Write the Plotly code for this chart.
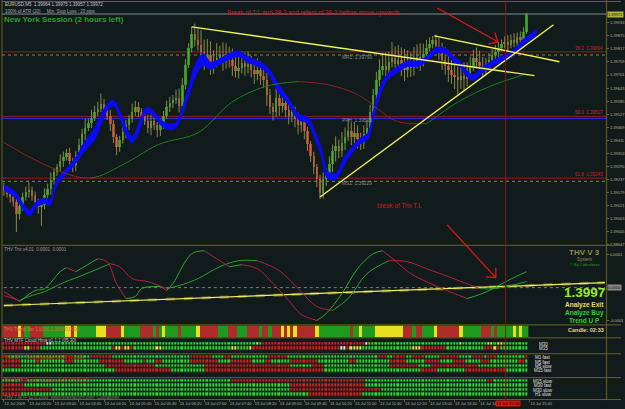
import math
import plotly.graph_objects as go

W, H = 625, 409
FONT = "Liberation Sans, Arial, sans-serif"
BG = "#121b1b"
OLIVE = "#66661f"

# ---------------- data: EURUSD M5 (prices stored as pips above 1.3900) ----------------
BASE = 1.3900
PIP = 0.0001

close_pips = [
    18.5, 17.2, 15.9, 13.7, 8.4, 11.9, 15.9, 18.1, 19.0, 16.3,
    13.7, 11.5, 12.4, 16.8, 19.4, 23.4, 26.9, 29.1, 31.8, 33.6,
    35.3, 31.8, 30.0, 34.4, 38.9, 43.7, 46.8, 48.6, 51.2, 53.9,
    55.2, 57.4, 54.8, 52.1, 48.2, 42.4, 38.0, 41.1, 44.6, 47.7,
    50.4, 53.9, 56.1, 53.9, 51.7, 49.9, 46.8, 49.5, 47.7, 45.5,
    48.2, 52.1, 55.7, 57.9, 59.2, 60.1, 56.5, 65.8, 74.7, 82.2,
    88.4, 85.7, 83.5, 80.4, 76.9, 79.1, 74.2, 76.0, 77.8, 79.1,
    76.0, 78.2, 76.9, 74.2, 72.0, 73.3, 75.6, 73.8, 75.1, 72.5,
    70.7, 72.5, 69.8, 68.0, 61.4, 55.7, 53.9, 60.1, 56.5, 57.9,
    54.8, 52.1, 53.5, 50.4, 47.7, 49.5, 45.1, 39.3, 34.0, 29.1,
    23.8, 17.7, 23.8, 26.1, 30.5, 36.2, 38.4, 36.2, 39.8, 42.8,
    45.1, 42.4, 44.2, 41.5, 39.8, 43.7, 46.8, 53.9, 61.4, 68.0,
    72.5, 74.2, 72.5, 76.0, 77.8, 75.1, 76.9, 74.2, 72.5, 75.1,
    73.3, 76.0, 78.2, 76.4, 79.5, 82.2, 83.9, 85.7, 83.1, 80.4,
    76.9, 74.2, 72.5, 70.2, 69.4, 68.0, 69.8, 68.5, 70.7, 73.8,
    77.8, 76.0, 74.2, 72.5, 74.2, 76.9, 79.1, 80.4, 82.2, 83.9,
    84.8, 83.5, 85.7, 84.4, 87.0, 85.7, 89.3, 97.2]
first_open_pips = 20.7

wick_up_pips = [
    1.5, 2.0, 1.0, 2.5, 1.5, 3.0, 2.0, 2.5, 3.5, 1.5,
    2.0, 1.5, 2.0, 3.0, 2.5, 3.5, 2.0, 1.5, 3.0, 2.5,
    2.0, 2.5, 1.5, 2.0, 3.0, 2.5, 4.0, 2.0, 3.5, 2.5,
    3.0, 4.5, 2.0, 1.5, 2.5, 2.0, 1.5, 2.0, 3.0, 2.5,
    2.0, 3.5, 2.5, 2.0, 1.5, 2.0, 2.5, 3.0, 2.0, 1.5,
    2.5, 2.0, 3.0, 2.5, 2.0, 3.5, 4.0, 3.0, 2.5, 2.0,
    3.1, 4.5, 5.0, 6.5, 5.5, 7.0, 6.0, 5.0, 6.5, 4.0,
    5.5, 6.0, 4.5, 5.0, 4.0, 6.5, 5.0, 4.5, 5.5, 3.5,
    4.0, 5.0, 3.5, 4.5, 3.0, 2.5, 2.0, 4.0, 3.0, 3.5,
    2.5, 3.0, 2.0, 2.5, 3.0, 2.0, 2.5, 2.0, 1.5, 2.0,
    1.5, 2.0, 3.0, 2.5, 3.5, 3.0, 4.5, 3.0, 5.0, 4.0,
    5.5, 4.0, 5.0, 3.5, 3.0, 4.0, 3.5, 3.0, 2.5, 3.5,
    4.5, 5.5, 6.0, 4.5, 7.0, 5.0, 6.5, 5.5, 7.5, 6.0,
    5.0, 6.5, 5.5, 6.0, 4.5, 3.5, 3.0, 1.8, 2.5, 3.5,
    4.0, 5.5, 4.5, 5.0, 6.0, 4.5, 5.5, 6.0, 5.0, 4.5,
    3.5, 4.5, 5.0, 4.0, 3.5, 3.0, 2.5, 3.0, 2.5, 2.0,
    2.5, 3.0, 2.5, 3.0, 2.0, 2.5, 2.0, 0.5]
wick_dn_pips = [
    2.0, 1.5, 2.5, 2.0, 8.0, 2.5, 2.0, 1.5, 2.5, 2.0,
    2.5, 3.0, 8.4, 2.0, 1.5, 2.5, 2.0, 1.5, 2.0, 2.5,
    1.5, 2.0, 3.0, 2.5, 1.5, 2.0, 2.5, 1.5, 2.0, 1.5,
    2.0, 1.5, 2.5, 2.0, 3.0, 2.5, 3.5, 2.0, 1.5, 2.5,
    2.0, 1.5, 2.0, 2.5, 3.0, 2.0, 2.5, 3.5, 2.0, 3.0,
    2.5, 2.0, 1.5, 2.0, 2.5, 2.0, 3.0, 2.5, 2.0, 1.5,
    2.0, 3.0, 2.5, 3.5, 4.5, 3.0, 4.0, 3.5, 2.5, 3.0,
    4.0, 3.0, 3.5, 4.5, 3.0, 3.5, 2.5, 4.0, 3.0, 3.5,
    4.5, 3.0, 4.0, 3.5, 5.0, 3.0, 4.0, 2.5, 4.5, 3.0,
    3.5, 4.0, 3.0, 3.5, 4.0, 3.0, 3.5, 3.0, 2.5, 3.0,
    3.5, 2.7, 2.5, 3.0, 2.0, 3.5, 4.5, 3.0, 2.5, 3.0,
    2.0, 3.5, 2.5, 4.0, 3.0, 2.5, 2.0, 1.5, 2.0, 2.5,
    3.0, 2.5, 4.0, 3.0, 2.5, 4.0, 3.0, 4.5, 5.0, 3.5,
    4.0, 3.5, 3.0, 4.5, 2.5, 2.0, 1.5, 2.0, 3.0, 3.5,
    4.5, 4.0, 5.5, 4.0, 5.5, 6.5, 4.0, 5.0, 3.5, 2.5,
    2.0, 3.0, 4.0, 3.5, 2.5, 2.0, 1.5, 2.0, 2.5, 1.5,
    2.0, 2.5, 1.5, 2.0, 1.5, 2.0, 1.5, 1.0]

# HMA cloud (blue band): bar index, upper / lower edge in pips
band_x = [0, 3.5, 6.7, 8.3, 10.5, 13, 14.6, 16.8, 20, 23.2,
          25.7, 28.9, 31.4, 33.7, 35.2, 36.8, 39, 41, 43.2, 45.4,
          47, 48.6, 50.5, 52.7, 54.9, 56.8, 59, 61.3, 63.8, 66,
          68.6, 71.7, 74.9, 78.1, 81.3, 84.4, 87.6, 90.8, 94, 97.1,
          99.4, 101.3, 103.5, 106, 108.9, 111.4, 113.7, 116.2, 118.4, 120.3,
          122.5, 125.7, 128.9, 132.1, 135.2, 138.4, 141.6, 143.8, 145.7, 147.9,
          150.2, 152.1, 154.3, 156.5, 159, 161.6, 163.8, 166, 168.6, 170.2]
band_hi_pips = [21.3, 18.4, 11.9, 10.0, 14.1, 15.4, 14.5, 23.3, 28.6, 34.0,
                40.2, 46.4, 53.5, 58.3, 58.7, 54.8, 47.0, 42.8, 49.0, 55.6,
                55.1, 52.9, 49.8, 48.5, 48.9, 54.8, 64.5, 75.1, 79.5, 75.8,
                77.0, 79.5, 80.8, 78.1, 76.3, 73.3, 66.0, 60.1, 53.0, 51.2,
                44.9, 38.2, 27.3, 26.5, 33.9, 38.4, 41.9, 44.2, 55.9, 64.8,
                70.4, 73.7, 76.3, 76.3, 78.6, 82.5, 81.6, 78.1, 76.3, 71.9,
                70.2, 72.8, 75.0, 76.8, 78.6, 79.9, 82.5, 86.1, 88.7, 90.5]
band_lo_pips = [18.8, 16.0, 9.3, 7.6, 11.5, 13.0, 12.0, 20.8, 26.1, 31.4,
                36.2, 41.1, 49.5, 55.7, 56.2, 52.1, 43.5, 40.2, 45.0, 53.1,
                52.7, 50.5, 47.4, 46.0, 46.5, 52.1, 60.5, 69.8, 74.3, 72.7,
                74.6, 76.9, 78.3, 75.6, 73.9, 70.7, 62.6, 57.4, 50.4, 48.6,
                41.7, 34.7, 24.0, 23.9, 30.6, 35.8, 39.4, 41.5, 52.4, 61.5,
                67.9, 71.2, 73.9, 73.9, 76.1, 80.1, 79.2, 75.6, 73.9, 69.5,
                67.7, 70.3, 72.6, 74.3, 76.1, 77.4, 80.1, 83.6, 86.3, 88.0]

# slow moving average (thin line)
ma_x = [0, 8.3, 17.8, 24.1, 27.3, 30.5, 40, 49.5, 62.2, 72.7, 83.5, 94, 103.5, 113,
        125.7, 135.2, 144.8, 155.2, 166]
ma_pips = [40.2, 33.6, 27.4, 24.7, 24.3, 25.2, 31.8, 39.3, 44.6, 57.9, 65.0, 67.2, 65.8,
           61.4, 49.5, 48.6, 57.9, 65.0, 70.2]

# yellow trend lines (bar index, pips)
tl_down_long_x = [60.0, 169.5]
tl_down_long_p = [91.5, 69.8]
tl_up_x = [101.0, 175.6]
tl_up_p = [15.9, 92.4]
tl_down_short_x = [137.5, 177.5]
tl_down_short_p = [87.5, 76.0]

# horizontal levels
bid_price = 1.39972
fib_names = ["38.2", "50.0", "61.8"]
fib_prices = [1.39804, 1.39517, 1.39243]
pivot_names = ["MR1", "PPH", "MS1"]
pivot_prices = [1.39790, 1.39508, 1.39229]

price_ticks = [1.38947, 1.39005, 1.39063, 1.39121, 1.39179, 1.39237, 1.39295, 1.39353,
               1.39411, 1.39469, 1.39527, 1.39585, 1.39643, 1.39701, 1.39759, 1.39817,
               1.39875, 1.39933]

x_ticks = [0, 8, 16, 24, 32, 40, 48, 56, 64, 72, 80, 88, 96, 104, 112, 120, 128, 136, 144, 152, 168]
x_labels = ["13 Jul 2009", "13 Jul 02:20", "13 Jul 03:00", "13 Jul 03:40", "13 Jul 04:20",
            "13 Jul 05:00", "13 Jul 05:40", "13 Jul 06:20", "13 Jul 07:00", "13 Jul 07:40",
            "13 Jul 08:20", "13 Jul 09:00", "13 Jul 09:40", "13 Jul 10:20", "13 Jul 11:00",
            "13 Jul 11:40", "13 Jul 12:20", "13 Jul 13:00", "13 Jul 13:40", "13 Jul 14:20",
            "13 Jul 15:40"]
cursor_bar = 160.3
cursor_label = "13 Jul 15:00"

# THV Trix oscillator (units of 0.00001)
trix_fast_x = [0, 5, 10, 13, 18, 20, 23, 30, 33, 36, 39, 42, 44, 50, 52, 54, 60, 64, 67, 72,
               76, 81, 86, 91, 95, 100, 103, 108, 113, 118, 121, 125, 130, 135, 140, 148, 152,
               155, 161, 167]
trix_fast_v = [-1.2, -4.2, -0.9, -0.3, 4.8, 6.0, 4.8, 8.7, 7.8, 1.2, -3.3, -2.7, -0.3, 0.3,
               -0.9, 1.2, 10.2, 11.1, 9.3, 6.3, 6.9, 5.7, 1.2, -3.9, -8.1, -9.9, -7.8, -1.8,
               5.7, 10.2, 11.1, 8.1, 4.2, 1.8, -0.3, -3.3, -2.1, -0.9, 2.1, 4.8]
trix_slow_x = [0, 5, 8, 13, 19, 24, 34, 37, 41, 46, 52, 56, 62, 69, 75, 81, 88, 94, 100, 105,
               110, 116, 123, 129, 135, 142, 152, 157, 167]
trix_slow_v = [-2.4, -3.9, -2.7, -1.2, 1.5, 3.3, 7.2, 6.3, 2.7, 1.8, -0.3, 0.6, 2.7, 6.3, 8.1,
               8.1, 5.1, -0.3, -5.7, -6.9, -3.3, 4.2, 8.1, 7.8, 5.7, 3.3, -0.3, -0.3, 1.8]
trix_tl_x = [0, 192]
trix_tl_v = [-5.4, 1.5]

# Trend bar & MTF signal rows (run-length: colour letter + bar count)
trend_bar_runs = ("R5 Y1 R1 G2 R4 G7 Y2 R1 Y1 G6 Y3 R5 Y1 G5 R4 G1 R1 G1 Y1 G4 R1 G5 Y1 R6 G3 "
                  "R3 G3 R4 G1 R2 G1 R3 Y1 R1 Y1 R1 Y1 R6 Y1 G10 R1 G2 Y1 G4 Y9 R3 G1 R2 G4 "
                  "Y1 R7 Y1 G6 R3 G1 R1 G5 Y1 G1 Y1 G2")
mtf1_names = ["M30", "M15"]
mtf1_runs = ["R14 W2 G65 Y1 G1 R33 W1 G29 Y1 G8 Y2 G1 Y2 G8",
             "R7 Y2 R3 G23 R1 Y2 R1 Y2 R1 G7 Y2 G22 Y2 G4 Y1 R28 W2 R1 Y4 G16 Y3 R8 G11 G1 R3 Y1 R1 G9"]
mtf2_names = ["M1 fast", "M5 fast", "M5 slow", "M15 fast"]
mtf2_runs = ["R2 G18 R3 G5 R7 G25 R7 G4 R2 G12 R6 G29 R3 G2 R4 G2 R4 G5 R6 G4 R4 G1 R3 G9 R1",
             "R6 G5 R1 G8 R3 G8 R8 G6 R1 G3 R2 G9 R9 G4 R7 G4 R2 G6 R9 G10 R2 G11 R5 G6 R5 G4 R4 G5 R3 G9 R2 G1",
             "R6 G27 R16 G16 R27 G7 R4 G21 R9 G4 R15 G16",
             "G36 R18 G11 R38 G31 R5 G9 R13 G7"]
mtf3_names = ["M15 slow", "M30 fast", "M30 slow", "H1 slow"]
mtf3_runs = ["G6 R2 G65 R43 G39 R2 G11",
             "R7 G85 R24 G52",
             "R16 G76 R29 G47",
             "R6 G92 R17 G53"]

# ---------------- helpers ----------------
N = min(len(close_pips), len(wick_up_pips), len(wick_dn_pips))
idx = list(range(N))


def pr(p):
    return BASE + p * PIP


def px(x):
    return x / W


def py(y):
    return 1 - y / H


CODE = {"R": 0, "G": 1, "Y": 2, "W": 3}


def expand(runs):
    out = []
    for tok in runs.split():
        out += [CODE[tok[0]]] * int(tok[1:])
    out = out[:N]
    return out + [None] * (N - len(out))


def disc_scale(cols):
    s = []
    for k, c in enumerate(cols):
        s.append([k / 4, c])
        s.append([(k + 1) / 4, c])
    return s


opens = [first_open_pips] + close_pips[:N - 1]
closes = close_pips[:N]

fig = go.Figure()

# wicks
wx, wy = [], []
for i in idx:
    o, c = opens[i], closes[i]
    wx += [i, i, None]
    wy += [pr(min(o, c) - wick_dn_pips[i]), pr(max(o, c) + wick_up_pips[i]), None]
fig.add_trace(go.Scatter(x=wx, y=wy, mode="lines", line=dict(color="#8a8a44", width=1),
                         hoverinfo="skip", yaxis="y"))
# bodies
fig.add_trace(go.Bar(
    x=idx,
    base=[pr(min(opens[i], closes[i])) for i in idx],
    y=[max(abs(closes[i] - opens[i]), 0.45) * PIP for i in idx],
    width=0.78,
    marker=dict(color=["#1aa01a" if closes[i] >= opens[i] else "#cc3636" for i in idx],
                line=dict(width=0)),
    yaxis="y", hoverinfo="skip"))

# blue HMA cloud
fig.add_trace(go.Scatter(x=band_x, y=[pr(v) for v in band_lo_pips], mode="lines",
                         line=dict(color="#0a0af5", width=1, shape="spline"), yaxis="y",
                         hoverinfo="skip"))
fig.add_trace(go.Scatter(x=band_x, y=[pr(v) for v in band_hi_pips], mode="lines",
                         line=dict(color="#0a0af5", width=1, shape="spline"), fill="tonexty",
                         fillcolor="#0a0af5", yaxis="y", hoverinfo="skip"))


def slope_traces(xs, vs, up_col, dn_col, yaxis, width=1, conv=lambda v: v):
    runs = []
    for i in range(len(xs) - 1):
        col = up_col if vs[i + 1] >= vs[i] else dn_col
        if runs and runs[-1][0] == col:
            runs[-1][1].append(i + 1)
        else:
            runs.append([col, [i, i + 1]])
    for col, ids in runs:
        fig.add_trace(go.Scatter(x=[xs[j] for j in ids], y=[conv(vs[j]) for j in ids],
                                 mode="lines", line=dict(color=col, width=width, shape="spline"),
                                 yaxis=yaxis, hoverinfo="skip"))


slope_traces(ma_x, ma_pips, "#1f7d1f", "#8c2424", "y", 1, pr)

for tx, tp in [(tl_down_long_x, tl_down_long_p), (tl_up_x, tl_up_p), (tl_down_short_x, tl_down_short_p)]:
    fig.add_trace(go.Scatter(x=tx, y=[pr(v) for v in tp], mode="lines",
                             line=dict(color="#f2f25a", width=1.3), yaxis="y", hoverinfo="skip"))

# oscillator panel
fig.add_trace(go.Scatter(x=[0, 192], y=[0, 0], mode="lines",
                         line=dict(color="#7a7a7a", width=1, dash="dot"), yaxis="y2", hoverinfo="skip"))
fig.add_trace(go.Scatter(x=trix_tl_x, y=trix_tl_v, mode="lines",
                         line=dict(color="#5e5e26", width=3, dash="dash"), yaxis="y2", hoverinfo="skip"))
fig.add_trace(go.Scatter(x=trix_tl_x, y=trix_tl_v, mode="lines",
                         line=dict(color="#f0f060", width=1.2), yaxis="y2", hoverinfo="skip"))
slope_traces(trix_slow_x, trix_slow_v, "#2c9c2c", "#b0203c", "y2", 1)
slope_traces(trix_fast_x, trix_fast_v, "#2ea82e", "#b82040", "y2", 1)

# trend bar
tb_cols = ["#b02c2c", "#1e9a1e", "#e6e020", "#eeeeee"]
fig.add_trace(go.Heatmap(x=idx, y=[0], z=[expand(trend_bar_runs)], zmin=-0.5, zmax=3.5,
                         colorscale=disc_scale(tb_cols), showscale=False, yaxis="y3",
                         hoverinfo="skip"))
mtf_cols = ["#d02020", "#2fd82f", "#e8e840", "#f0f0f0"]
for runs, ya in [(mtf1_runs, "y4"), (mtf2_runs, "y5"), (mtf3_runs, "y6")]:
    fig.add_trace(go.Heatmap(x=idx, y=list(range(len(runs))), z=[expand(r) for r in runs],
                             zmin=-0.5, zmax=3.5, colorscale=disc_scale(mtf_cols),
                             showscale=False, xgap=1, ygap=1.5, yaxis=ya, hoverinfo="skip"))

# ---------------- layout ----------------
tickfont = dict(size=4, color="#b4b49a", family=FONT)
hidden = dict(visible=False, showgrid=False, zeroline=False, fixedrange=True)
layout = dict(
    width=W, height=H, margin=dict(l=0, r=0, t=0, b=0, pad=0),
    paper_bgcolor=BG, plot_bgcolor=BG, showlegend=False, bargap=0,
    xaxis=dict(domain=[px(2), px(610)], range=[-0.6, 192.4], anchor="y6",
               showgrid=False, zeroline=False, showline=False,
               tickmode="array", tickvals=x_ticks, ticktext=x_labels, tickangle=0,
               ticklabelposition="outside right", ticks="outside", ticklen=2,
               tickcolor=OLIVE, tickfont=tickfont),
    yaxis=dict(domain=[py(246), py(3)], range=[1.38947, 1.40021], side="right", anchor="x",
               showgrid=False, zeroline=False, showline=False, tickmode="array",
               tickvals=price_ticks, ticktext=["%.5f" % v for v in price_ticks],
               ticks="outside", ticklen=2, tickcolor=OLIVE, tickfont=tickfont),
    yaxis2=dict(domain=[py(325), py(247)], range=[-10.8, 12.6], side="right", anchor="x",
                showgrid=False, zeroline=False, showline=False, tickmode="array",
                tickvals=[10, -10], ticktext=["0.0001", "-0.0001"], ticks="outside",
                ticklen=2, tickcolor=OLIVE, tickfont=tickfont),
    yaxis3=dict(domain=[py(339), py(327)], range=[-0.5, 0.5], anchor="x", **hidden),
    yaxis4=dict(domain=[py(355), py(340)], range=[2.09, -1.395], anchor="x", **hidden),
    yaxis5=dict(domain=[py(379), py(356)], range=[4.43, -0.74], anchor="x", **hidden),
    yaxis6=dict(domain=[py(401), py(380)], range=[3.98, -0.74], anchor="x", **hidden),
)
fig.update_layout(**layout)

shapes = []
# panel separators and borders
for yy in [1.5, 246.5, 326.5, 339.5, 355.5, 379.5, 401.5]:
    shapes.append(dict(type="line", xref="paper", yref="paper", x0=px(2), x1=1, y0=py(yy), y1=py(yy),
                       line=dict(color=OLIVE, width=1), layer="above"))
for xx in [2, 610.5]:
    shapes.append(dict(type="line", xref="paper", yref="paper", x0=px(xx), x1=px(xx), y0=py(0), y1=py(402),
                       line=dict(color=OLIVE, width=1), layer="above"))
# bid line
shapes.append(dict(type="line", xref="paper", yref="y", x0=px(2), x1=px(610), y0=bid_price, y1=bid_price,
                   line=dict(color="#7d8c92", width=1), layer="below"))
for p in fib_prices:
    shapes.append(dict(type="line", xref="paper", yref="y", x0=px(2), x1=px(610), y0=p, y1=p,
                       line=dict(color="#8e1c1c", width=1), layer="below"))
for k, p in enumerate(pivot_prices):
    col = "#2a2ad0" if k == 1 else "#8a8a4a"
    dash = "solid" if k == 1 else "dot"
    shapes.append(dict(type="line", xref="paper", yref="y", x0=px(2), x1=px(610), y0=p, y1=p,
                       line=dict(color=col, width=1, dash=dash), layer="below"))
# cursor line
shapes.append(dict(type="line", xref="x", yref="paper", x0=cursor_bar, x1=cursor_bar, y0=py(402), y1=py(1.5),
                   line=dict(color="#8a1414", width=1), layer="above"))


def arrow(tail, tip, color):
    shapes.append(dict(type="line", xref="paper", yref="paper", x0=px(tail[0]), y0=py(tail[1]),
                       x1=px(tip[0]), y1=py(tip[1]), line=dict(color=color, width=1.3), layer="above"))
    ang = math.atan2(tip[1] - tail[1], tip[0] - tail[0])
    for d in (0.75, -0.75):
        a = ang + math.pi + d
        ex, ey = tip[0] + 10 * math.cos(a), tip[1] + 10 * math.sin(a)
        shapes.append(dict(type="line", xref="paper", yref="paper", x0=px(tip[0]), y0=py(tip[1]),
                           x1=px(ex), y1=py(ey), line=dict(color=color, width=1.3), layer="above"))


arrow((440, 8), (501, 42), "#e01818")
arrow((450, 226), (499, 279), "#e01818")

anns = []


def T(x, y, text, size, color, bold=False, xanchor="left", bg=None, yref="paper"):
    d = dict(x=px(x), y=(py(y) if yref == "paper" else y), xref="paper", yref=yref,
             text=("<b>%s</b>" % text if bold else text), showarrow=False,
             xanchor=xanchor, yanchor="middle", borderpad=0,
             font=dict(size=size, color=color, family=FONT))
    if bg:
        d["bgcolor"] = bg
    anns.append(d)


T(4, 4.5, "EURUSD,M5  1.39964 1.39975 1.39957 1.39972", 4.5, "#c8c8c8")
T(4, 12, "100% of ATR (20)     Min. Stop Loss : 23 pips", 4.5, "#a8a8a8")
T(3, 20, "New York Session (2 hours left)", 8, "#2a9e2a", bold=True)
T(227, 13, "Break of T.L and 38.2 and retest of 38.2 before move upwards.", 6.3, "#c42020")
T(378, 207, "break of Trix T.L", 6.3, "#c42020")
for name, p, yy in zip(pivot_names, pivot_prices, [58, 121, 184.5]):
    T(343, yy, "%s: %.5f" % (name, p), 4.8, "#8c8c8c")
for name, p in zip(fib_names, fib_prices):
    anns.append(dict(x=px(608), y=p, xref="paper", yref="y", text="%s  %.5f" % (name, p),
                     showarrow=False, xanchor="right", yanchor="bottom", borderpad=0,
                     font=dict(size=4.5, color="#d02424", family=FONT)))
T(611, bid_price, "%.5f" % bid_price, 4, "#101010", bg="#b4b43c", yref="y")
T(3, 251, "THV Trix v4.01  0.0001  0.0001", 4.5, "#9a9a9a")
T(588, 254, "THV V 3", 8, "#8f8f4a", bold=True, xanchor="center")
T(588, 260.5, "System", 4.5, "#8f8f4a", xanchor="center")
T(589, 265.5, "\u00a9 By Cobraforex", 4, "#2a9a2a", xanchor="center")
T(588, 293.5, "1.3997", 13.5, "#9aec2a", bold=True, xanchor="center")
T(588, 306.3, "Analyze Exit", 6.5, "#eedc6a", bold=True, xanchor="center")
T(588, 314.1, "Analyze Buy", 6.5, "#33cc33", bold=True, xanchor="center")
T(588, 321.9, "Trend U P", 6.5, "#33cc33", bold=True, xanchor="center")
T(611, 289, "0.0000", 4, "#101010", bg="#8a8a8a")
T(589.5, 331.5, "Candle: 02:33", 5.5, "#e2d490", bold=True, xanchor="center")
T(3, 331, "THV Trend Bar 1.0000 1.0000 0.0000", 4.5, "#d87030")
T(3, 342.5, "THV MTF Cloud Hma v1.1.1 (05,30)", 4.5, "#c8c8c8")
T(3, 359.5, "THV MTF Trend Indicator v2.01 (1,5,15)", 4.5, "#c83a2a")
T(3, 382.5, "THV MTF Trend Indicator v2.01 (15,30,60)", 4.5, "#c83a2a")
T(3, 399, "THV T MTF v2.0 2009  www.forexfactory.com  Cobraforex", 4.5, "#7a7a6a")
for names, ys in [(mtf1_names, [346, 350.3]), (mtf2_names, [359.3, 363.8, 368.2, 372.7]),
                  (mtf3_names, [383.3, 387.7, 392.2, 396.7])]:
    for nm, yy in zip(names, ys):
        T(547, yy, nm, 4.5, "#e0e0e0", xanchor="center")
T(511, 405.5, cursor_label, 4.3, "#2a0000", bg="#e01010", xanchor="center")

fig.update_layout(shapes=shapes, annotations=anns)
fig.write_html("out.html")
